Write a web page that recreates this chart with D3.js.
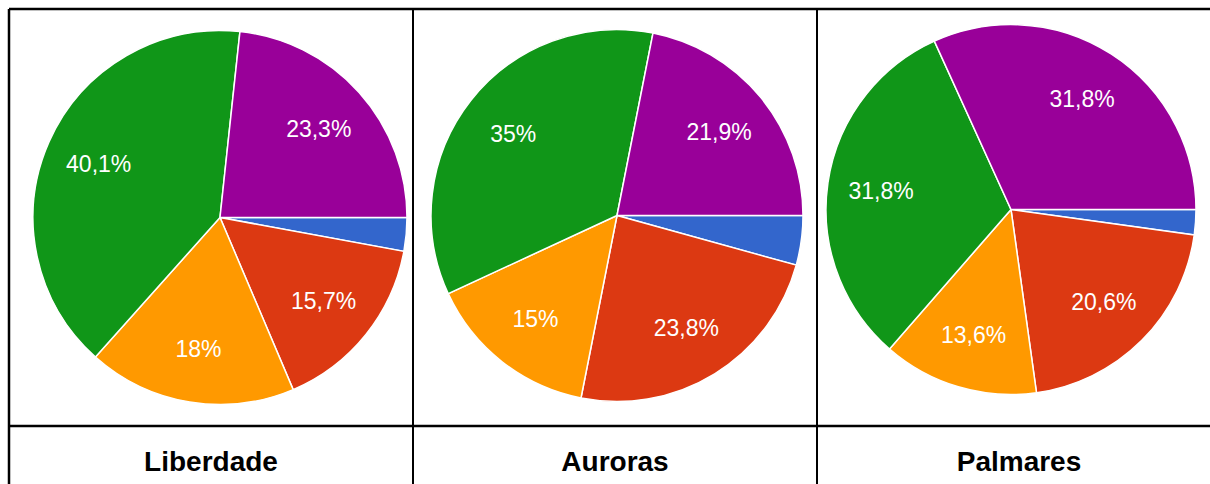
<!DOCTYPE html>
<html>
<head>
<meta charset="utf-8">
<script src="https://cdn.jsdelivr.net/npm/d3@7"></script>
<style>
  body { margin: 0; background: #fff; }
  svg { display: block; font-family: "Liberation Sans", Arial, sans-serif; }
</style>
</head>
<body>
<div id="chart"></div>
<script>
// data
var places = ["Liberdade", "Auroras", "Palmares"];
var categories = ["blue", "red", "orange", "green", "purple"];
var liberdade = [2.9, 15.7, 18, 40.1, 23.3];
var auroras = [4.3, 23.8, 15, 35, 21.9];
var palmares = [2.2, 20.6, 13.6, 31.8, 31.8];
var labels = [
  ["", "15,7%", "18%", "40,1%", "23,3%"],
  ["", "23,8%", "15%", "35%", "21,9%"],
  ["", "20,6%", "13,6%", "31,8%", "31,8%"]
];
var series = [liberdade, auroras, palmares];

var width = 1210, height = 484;
var gridTop = 9, rowSplit = 426, gridLeft = 9;
// small per-pie nudges of centre and radius
var pieLayout = [
  {dx: 9, dy: 0, r: 187},
  {dx: 2, dy: -2, r: 186},
  {dx: -8, dy: -8, r: 185}
];

var color = d3.scaleOrdinal()
  .domain(categories)
  .range(["#3366cc", "#dc3912", "#ff9900", "#109618", "#990099"]);

var svg = d3.select("#chart")
  .append("svg")
  .attr("width", width)
  .attr("height", height);

var x = d3.scaleBand()
  .domain(places)
  .range([gridLeft, gridLeft + 404 * 3]);

var pie = d3.pie()
  .sort(null)
  .value(function(d) { return d; })
  .startAngle(Math.PI / 2)
  .endAngle(Math.PI / 2 + 2 * Math.PI);

places.forEach(function(p, i) {
  var lay = pieLayout[i];
  var cx = x(p) + x.bandwidth() / 2 + lay.dx;
  var cy = (gridTop + rowSplit) / 2 + lay.dy;

  var arc = d3.arc().innerRadius(0).outerRadius(lay.r);
  var labelArc = d3.arc().innerRadius(lay.r * 0.71).outerRadius(lay.r * 0.71);

  var g = svg.append("g")
    .attr("transform", "translate(" + cx + "," + cy + ")");

  var arcs = pie(series[i]);

  g.selectAll("path")
    .data(arcs)
    .enter()
    .append("path")
    .attr("d", arc)
    .attr("fill", function(d, j) { return color(categories[j]); })
    .attr("stroke", "#fff")
    .attr("stroke-width", 1.5);

  g.selectAll("text")
    .data(arcs)
    .enter()
    .append("text")
    .attr("transform", function(d) { return "translate(" + labelArc.centroid(d) + ")"; })
    .attr("text-anchor", "middle")
    .attr("dominant-baseline", "central")
    .attr("fill", "#fff")
    .attr("font-size", "23px")
    .text(function(d, j) { return labels[i][j]; });

  svg.append("text")
    .attr("x", x(p) + x.bandwidth() / 2)
    .attr("y", 461)
    .attr("text-anchor", "middle")
    .attr("dominant-baseline", "central")
    .attr("font-size", "28px")
    .attr("font-weight", "bold")
    .attr("fill", "#000")
    .text(p);
});

// table grid
var grid = svg.append("g").attr("stroke", "#000").attr("stroke-width", 2.5);
grid.append("line").attr("x1", gridLeft).attr("x2", width).attr("y1", gridTop).attr("y2", gridTop);
grid.append("line").attr("x1", gridLeft).attr("x2", width).attr("y1", rowSplit).attr("y2", rowSplit);
grid.append("line").attr("x1", gridLeft).attr("x2", gridLeft).attr("y1", gridTop).attr("y2", height);
places.slice(1).forEach(function(p) {
  grid.append("line")
    .attr("x1", x(p)).attr("x2", x(p))
    .attr("y1", gridTop).attr("y2", height)
    .attr("stroke-width", 2);
});
</script>
</body>
</html>
